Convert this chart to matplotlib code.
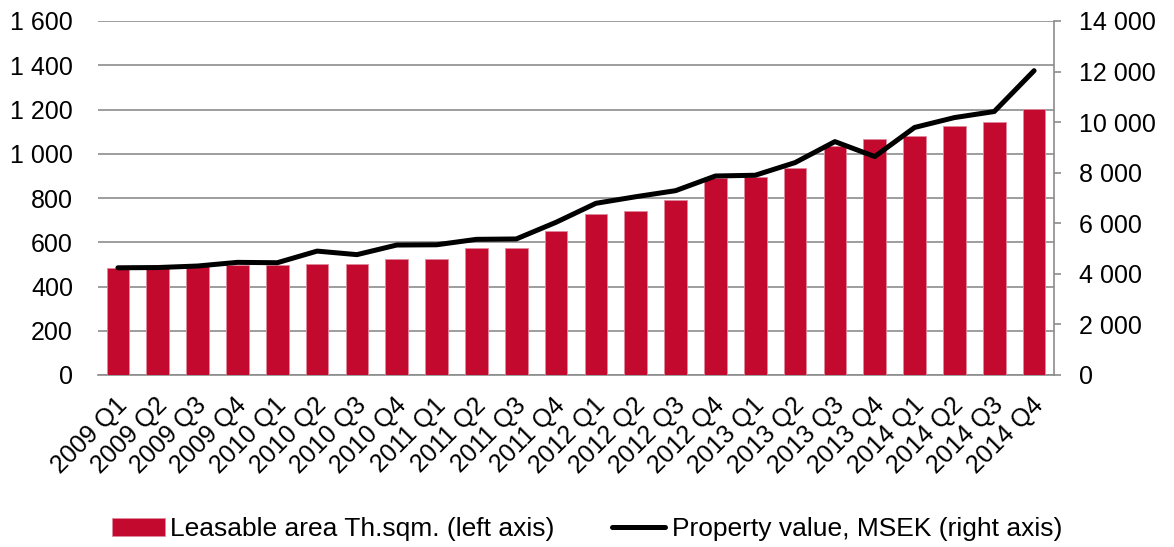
import matplotlib
matplotlib.use("Agg")
import matplotlib.pyplot as plt
from matplotlib.ticker import FuncFormatter
from matplotlib.transforms import ScaledTranslation

plt.rcParams['font.family'] = ['Liberation Sans', 'DejaVu Sans']

categories = ["2009 Q1", "2009 Q2", "2009 Q3", "2009 Q4",
              "2010 Q1", "2010 Q2", "2010 Q3", "2010 Q4",
              "2011 Q1", "2011 Q2", "2011 Q3", "2011 Q4",
              "2012 Q1", "2012 Q2", "2012 Q3", "2012 Q4",
              "2013 Q1", "2013 Q2", "2013 Q3", "2013 Q4",
              "2014 Q1", "2014 Q2", "2014 Q3", "2014 Q4"]
leasable_area = [484, 488, 492, 497, 497, 500, 500, 524, 524, 575, 575, 649,
                 728, 740, 791, 890, 895, 934, 1035, 1067, 1080, 1125, 1145, 1202]
property_value = [4240, 4250, 4310, 4455, 4440, 4900, 4760, 5140, 5150, 5365, 5380, 6040,
                  6790, 7050, 7290, 7870, 7900, 8400, 9230, 8640, 9790, 10180, 10420, 12035]
left_ticks = [0, 200, 400, 600, 800, 1000, 1200, 1400, 1600]
right_ticks = [0, 2000, 4000, 6000, 8000, 10000, 12000, 14000]
legend_labels = ["Leasable area Th.sqm. (left axis)", "Property value, MSEK (right axis)"]

RED = "#C4092F"
GRID = "#8C8C8C"
FS = 18
LFS = 19

fig = plt.figure(figsize=(11.74, 5.47), dpi=100)
ax = fig.add_axes([98/1174, 1 - 375/547, (1054 - 98)/1174, (375 - 21)/547])
ax2 = ax.twinx()

x = list(range(len(categories)))
bars = ax.bar(x, leasable_area, width=0.57, color=RED, edgecolor="#E08A9C",
              linewidth=0.6, zorder=3)
line, = ax2.plot(x, property_value, color="black", linewidth=3.6,
                 solid_joinstyle="round", solid_capstyle="round")

fmt = FuncFormatter(lambda v, p: f"{int(v):,}".replace(",", " "))

ax.set_xlim(-0.5, len(categories) - 0.5)
ax.set_ylim(0, 1600)
ax.set_yticks(left_ticks)
ax.yaxis.set_major_formatter(fmt)
ax2.set_ylim(0, 14000)
ax2.set_yticks(right_ticks)
ax2.yaxis.set_major_formatter(fmt)

ax.yaxis.grid(True, color=GRID, linewidth=1.2, zorder=0)
ax.set_axisbelow(True)

for a in (ax, ax2):
    for s in ("top", "left"):
        a.spines[s].set_visible(False)
ax2.spines["bottom"].set_visible(False)
ax.spines["right"].set_visible(False)
ax.spines["bottom"].set_color(GRID)
ax.spines["bottom"].set_linewidth(1.2)
ax2.spines["right"].set_color(GRID)
ax2.spines["right"].set_linewidth(1.2)

ax.tick_params(axis="y", length=0, labelsize=FS, pad=18)
ax.tick_params(axis="x", length=0, labelsize=FS, pad=13)
ax2.tick_params(axis="y", length=5, color=GRID, width=1.2, labelsize=FS, pad=13)

ax.set_xticks(x)
ax.set_xticklabels(categories, rotation=45, ha="right", va="top", rotation_mode="anchor")
off = ScaledTranslation(-3/100, 0, fig.dpi_scale_trans)
for lbl in ax.get_xticklabels():
    lbl.set_transform(lbl.get_transform() + off)

ax2.set_zorder(ax.get_zorder() + 1)
ax2.patch.set_visible(False)

leg1 = fig.legend(handles=[bars], labels=[legend_labels[0]],
                  loc="center left", bbox_to_anchor=(112/1174, 1 - 529/547),
                  frameon=False, fontsize=LFS, handlelength=2.0, handleheight=0.65,
                  handletextpad=0.19, borderpad=0, borderaxespad=0)
leg2 = fig.legend(handles=[line], labels=[legend_labels[1]],
                  loc="center left", bbox_to_anchor=(612/1174, 1 - 529/547),
                  frameon=False, fontsize=LFS, handlelength=2.0,
                  handletextpad=0.27, borderpad=0, borderaxespad=0)

fig.savefig("out.png", dpi=100)
